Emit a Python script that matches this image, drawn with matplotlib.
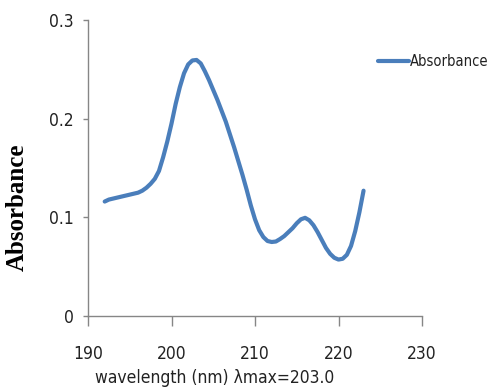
import matplotlib
matplotlib.use("Agg")
import matplotlib.pyplot as plt
from matplotlib import font_manager

wavelength = [192.0, 192.5, 193.0, 193.5, 194.0, 194.5, 195.0, 195.5,
              196.0, 196.5, 197.0, 197.5, 198.0, 198.5, 199.0, 199.5,
              200.0, 200.5, 201.0, 201.5, 202.0, 202.5, 203.0, 203.5,
              204.0, 204.5, 205.0, 205.5, 206.0, 206.5, 207.0, 207.5,
              208.0, 208.5, 209.0, 209.5, 210.0, 210.5, 211.0, 211.5,
              212.0, 212.5, 213.0, 213.5, 214.0, 214.5, 215.0, 215.5,
              216.0, 216.5, 217.0, 217.5, 218.0, 218.5, 219.0, 219.5,
              220.0, 220.5, 221.0, 221.5, 222.0, 222.5, 223.0]
absorbance = [0.116, 0.118, 0.119, 0.120, 0.121, 0.122, 0.123, 0.124,
              0.125, 0.127, 0.130, 0.134, 0.139, 0.147, 0.161, 0.177,
              0.195, 0.215, 0.232, 0.246, 0.255, 0.259, 0.2595, 0.256,
              0.248, 0.239, 0.229, 0.219, 0.208, 0.197, 0.184, 0.171,
              0.157, 0.143, 0.128, 0.112, 0.098, 0.087, 0.080, 0.076,
              0.075, 0.0755, 0.078, 0.081, 0.085, 0.089, 0.094, 0.098,
              0.0995, 0.097, 0.092, 0.085, 0.077, 0.069, 0.063, 0.059,
              0.0572, 0.058, 0.062, 0.071, 0.086, 0.105, 0.127]
xticks = [190, 200, 210, 220, 230]
yticks = [0, 0.1, 0.2, 0.3]
ytick_labels = ["0", "0.1", "0.2", "0.3"]

narrow = font_manager.FontProperties(family="DejaVu Sans", stretch="condensed", size=12.5)
line_color = "#4a7ebb"
grey = "#868686"
txt = "#222222"

fig = plt.figure(figsize=(4.88, 3.87), dpi=100)
ax = fig.add_axes([88 / 488, 71 / 387, 334 / 488, 296 / 387])
ax.plot(wavelength, absorbance, color=line_color, lw=3.0,
        solid_joinstyle="round", solid_capstyle="round", label="Absorbance")
ax.set_xlim(190, 230)
ax.set_ylim(0, 0.3)
ax.set_xticks(xticks)
ax.set_yticks(yticks)
ax.set_yticklabels(ytick_labels)
for s in ["top", "right"]:
    ax.spines[s].set_visible(False)
for s in ["left", "bottom"]:
    ax.spines[s].set_color(grey)
    ax.spines[s].set_linewidth(1.0)
ax.tick_params(axis="x", direction="out", length=7, width=1.0, color=grey,
               pad=14, labelcolor=txt)
ax.tick_params(axis="y", direction="out", length=3.5, width=1.0, color=grey,
               pad=7, labelcolor=txt)
for lab in ax.get_xticklabels() + ax.get_yticklabels():
    lab.set_fontproperties(narrow)

fig.text(95 / 488, 4 / 387, "wavelength (nm) \u03bbmax=203.0", fontproperties=narrow,
         color=txt, ha="left", va="baseline")
fig.text(17 / 488, 1 - 207 / 387, "Absorbance", family="Liberation Serif",
         fontweight="bold", fontsize=18, rotation=90, ha="center", va="center")

leg_prop = font_manager.FontProperties(family="DejaVu Sans", stretch="condensed", size=10.5)
leg = fig.legend(loc="center left", bbox_to_anchor=(378 / 488, 1 - 62 / 387),
                 frameon=False, handlelength=2.1, handletextpad=0.1,
                 borderaxespad=0, borderpad=0, prop=leg_prop)
for t in leg.get_texts():
    t.set_color(txt)

fig.savefig("out.png", dpi=100)
